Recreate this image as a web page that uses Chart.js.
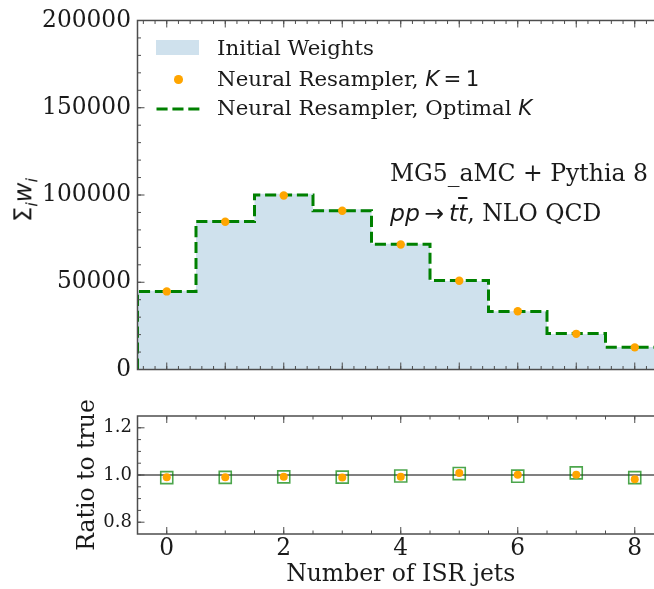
<!DOCTYPE html>
<html lang="en">
<head>
  <meta charset="UTF-8">
  <title>ISR jet multiplicity</title>
  <script src="https://cdn.jsdelivr.net/npm/chart.js"></script>
  <style>
    html, body {
      margin: 0;
      padding: 0;
      width: 654px;
      height: 589px;
      overflow: hidden;
      background: #ffffff;
    }
    canvas {
      position: absolute;
      left: 0;
    }
    #main-canvas { top: 0; }
    #ratio-canvas { top: 395px; }
    .txt {
      position: absolute;
      white-space: nowrap;
      line-height: 1;
      color: #1a1a1a;
      font-family: 'DejaVu Serif', serif;
    }
    .math { font-family: 'DejaVu Sans', sans-serif; }
    .math i { font-style: oblique; }
    .legend-text { font-size: 21.3px; left: 217px; }
    .note { font-size: 23.5px; left: 390px; }
    .bar { text-decoration: overline; }
  </style>
</head>
<body>
  <canvas id="main-canvas" width="690" height="390"></canvas>
  <canvas id="ratio-canvas" width="690" height="194"></canvas>

  <!-- legend -->
  <div style="position:absolute;left:156px;top:40px;width:43px;height:15px;background:rgb(207,225,237);"></div>
  <div style="position:absolute;left:174px;top:75px;width:8.5px;height:8.5px;border-radius:50%;background:#ffa500;"></div>
  <svg style="position:absolute;left:156px;top:104px;" width="44" height="10">
    <line x1="0.5" y1="5" x2="43.5" y2="5" stroke="#008000" stroke-width="3" stroke-dasharray="11.1 4.8"/>
  </svg>
  <div class="txt legend-text" style="top:37px;">Initial Weights</div>
  <div class="txt legend-text" style="top:68px;">Neural Resampler, <span class="math"><i>K</i>&#8201;=&#8201;1</span></div>
  <div class="txt legend-text" style="top:97px;">Neural Resampler, Optimal <span class="math"><i>K</i></span></div>

  <!-- process labels -->
  <div class="txt note" style="top:162px;">MG5_aMC + Pythia 8</div>
  <div class="txt note" style="top:202px;"><span class="math"><i>pp</i>&#8201;&#8594;&#8201;<i>t</i><i class="bar">t</i></span>, NLO QCD</div>

  <!-- y title of the upper panel -->
  <div class="txt math" style="left:26px;top:200px;font-size:24px;transform:translate(-50%,-50%) rotate(-90deg);">&#931;<sub style="font-size:16.5px;"><i>i</i></sub><i>w</i><sub style="font-size:16.5px;"><i>i</i></sub></div>

  <script>
    // per-bin sums of weights, bins 0..8 ISR jets
    const jetBins = [0, 1, 2, 3, 4, 5, 6, 7, 8];
    const initialWeights = [45200, 85600, 100700, 91800, 72100, 50700, 33400, 20400, 12900];
    const resamplerK1 = [44750, 84700, 99700, 91000, 71600, 50900, 33400, 20450, 12700];
    const resamplerOptimalK = [44700, 84750, 100000, 91000, 71800, 51000, 33300, 20580, 12750];

    // ratios to truth
    const ratioK1 = [0.990, 0.990, 0.993, 0.989, 0.993, 1.009, 1.001, 1.001, 0.982];
    const ratioOptimalK = [0.989, 0.990, 0.992, 0.991, 0.996, 1.006, 0.995, 1.009, 0.989];
    const unityLineX = [-0.5, 8.5];
    const unityLineY = [1, 1];

    // axis ranges and tick labels
    const xRange = [-0.5, 8.5];
    const xTickLabels = [0, 2, 4, 6, 8];
    const mainYRange = [0, 200000];
    const mainYTicks = [0, 50000, 100000, 150000, 200000];
    const ratioYRange = [0.75, 1.25];
    const ratioYTicks = [0.8, 1.0, 1.2];

    const ORANGE = '#ffa500';
    const GREEN = '#008000';
    const FILL = 'rgb(207,225,237)';
    const SPINE = '#4d4d4d';
    const TEXT = '#1a1a1a';

    Chart.defaults.font.family = "'DejaVu Serif', serif";
    Chart.defaults.color = TEXT;

    // step outline: point at each left bin edge, closed at the right edge
    function stepPoints(values, fromZero) {
      const pts = [];
      if (fromZero) pts.push({ x: jetBins[0] - 0.5, y: 0 });
      values.forEach((v, i) => pts.push({ x: jetBins[i] - 0.5, y: v }));
      pts.push({ x: jetBins[jetBins.length - 1] + 0.5, y: values[values.length - 1] });
      return pts;
    }

    function range(from, to, step) {
      const out = [];
      for (let v = from; v <= to + step * 1e-6; v += step) out.push(+v.toFixed(6));
      return out;
    }

    // box around the plot area with inward major/minor ticks on every side
    const framePlugin = {
      id: 'frame',
      afterDatasetsDraw(chart, args, opts) {
        const { ctx, chartArea: a, scales } = chart;
        const x = scales.x, y = scales.y;
        ctx.save();
        ctx.strokeStyle = SPINE;
        ctx.lineWidth = 1;
        const tick = (vals, len, horiz) => {
          vals.forEach(v => {
            ctx.beginPath();
            if (horiz) {
              const px = x.getPixelForValue(v);
              if (px <= a.left + 0.5 || px >= a.right - 0.5) return;
              ctx.moveTo(px, a.bottom); ctx.lineTo(px, a.bottom - len);
              ctx.moveTo(px, a.top); ctx.lineTo(px, a.top + len);
            } else {
              const py = y.getPixelForValue(v);
              if (py <= a.top + 0.5 || py >= a.bottom - 0.5) return;
              ctx.moveTo(a.left, py); ctx.lineTo(a.left + len, py);
              ctx.moveTo(a.right, py); ctx.lineTo(a.right - len, py);
            }
            ctx.stroke();
          });
        };
        tick(opts.xMinor, 3.5, true);
        tick(opts.xMajor, 7, true);
        tick(opts.yMinor, 3.5, false);
        tick(opts.yMajor, 7, false);
        ctx.lineWidth = 1.5;
        ctx.strokeRect(a.left, a.top, a.right - a.left, a.bottom - a.top);
        ctx.restore();
      }
    };

    const PLOT_LEFT = 137.5;
    const PLOT_RIGHT = 664;

    // upper panel: weighted histograms
    new Chart(document.getElementById('main-canvas'), {
      type: 'line',
      data: {
        datasets: [
          {
            label: 'Neural Resampler, K = 1',
            type: 'scatter',
            data: jetBins.map((b, i) => ({ x: b, y: resamplerK1[i] })),
            pointRadius: 4.2,
            pointBackgroundColor: ORANGE,
            pointBorderWidth: 0,
            order: 1
          },
          {
            label: 'Neural Resampler, Optimal K',
            data: stepPoints(resamplerOptimalK, true),
            stepped: true,
            borderColor: GREEN,
            borderWidth: 3,
            borderDash: [11.1, 4.8],
            borderCapStyle: 'butt',
            pointRadius: 0,
            fill: false,
            order: 2
          },
          {
            label: 'Initial Weights',
            data: stepPoints(initialWeights, false),
            stepped: true,
            borderWidth: 0,
            borderColor: FILL,
            backgroundColor: FILL,
            pointRadius: 0,
            fill: 'origin',
            order: 3
          }
        ]
      },
      options: {
        responsive: false,
        animation: false,
        events: [],
        layout: { autoPadding: false, padding: { top: 20, bottom: 20, left: 0, right: 690 - PLOT_RIGHT } },
        plugins: {
          legend: { display: false },
          tooltip: { enabled: false },
          frame: {
            xMajor: range(0, 8, 1),
            xMinor: range(-0.4, 8.4, 0.2),
            yMajor: mainYTicks,
            yMinor: range(0, 200000, 10000)
          }
        },
        scales: {
          x: {
            type: 'linear',
            min: xRange[0],
            max: xRange[1],
            ticks: { display: false },
            grid: { display: false, drawTicks: false },
            border: { display: false },
            afterFit(s) { s.height = 0; }
          },
          y: {
            min: mainYRange[0],
            max: mainYRange[1],
            afterBuildTicks(s) { s.ticks = mainYTicks.map(v => ({ value: v })); },
            ticks: {
              padding: 6.5,
              font: { size: 23.3 },
              color: TEXT,
              callback: v => String(v)
            },
            grid: { display: false, drawTicks: false },
            border: { display: false },
            afterFit(s) { s.width = PLOT_LEFT; }
          }
        }
      },
      plugins: [framePlugin]
    });

    // lower panel: ratio to truth
    new Chart(document.getElementById('ratio-canvas'), {
      type: 'line',
      data: {
        datasets: [
          {
            label: 'Neural Resampler, K = 1',
            type: 'scatter',
            data: jetBins.map((b, i) => ({ x: b, y: ratioK1[i] })),
            pointRadius: 4,
            pointBackgroundColor: ORANGE,
            pointBorderWidth: 0,
            order: 1
          },
          {
            label: 'Neural Resampler, Optimal K',
            type: 'scatter',
            data: jetBins.map((b, i) => ({ x: b, y: ratioOptimalK[i] })),
            pointStyle: 'rect',
            pointRadius: 8.5,
            pointBackgroundColor: 'rgba(255,255,255,0)',
            pointBorderColor: 'rgba(0,128,0,0.7)',
            pointBorderWidth: 1.6,
            order: 2
          },
          {
            label: 'unity',
            data: unityLineX.map((x, i) => ({ x: x, y: unityLineY[i] })),
            borderColor: '#808080',
            borderWidth: 2,
            pointRadius: 0,
            fill: false,
            order: 3
          }
        ]
      },
      options: {
        responsive: false,
        animation: false,
        events: [],
        layout: { autoPadding: false, padding: { top: 21, bottom: 0, left: 0, right: 690 - PLOT_RIGHT } },
        plugins: {
          legend: { display: false },
          tooltip: { enabled: false },
          frame: {
            xMajor: xTickLabels,
            xMinor: range(-0.5, 8.5, 0.5),
            yMajor: ratioYTicks,
            yMinor: range(0.75, 1.25, 0.05)
          }
        },
        scales: {
          x: {
            type: 'linear',
            min: xRange[0],
            max: xRange[1],
            afterBuildTicks(s) { s.ticks = xTickLabels.map(v => ({ value: v })); },
            ticks: { padding: 1, font: { size: 23.3 }, color: TEXT, callback: v => String(v) },
            grid: { display: false, drawTicks: false },
            border: { display: false },
            title: {
              display: true,
              text: 'Number of ISR jets',
              font: { size: 23.5 },
              color: TEXT,
              padding: { top: 0, bottom: 0 }
            },
            afterFit(s) { s.height = 55; }
          },
          y: {
            min: ratioYRange[0],
            max: ratioYRange[1],
            afterBuildTicks(s) { s.ticks = ratioYTicks.map(v => ({ value: v })); },
            ticks: { padding: 5.5, font: { size: 18 }, color: TEXT, callback: v => v.toFixed(1) },
            grid: { display: false, drawTicks: false },
            border: { display: false },
            title: {
              display: true,
              text: 'Ratio to true',
              font: { size: 23.5 },
              color: TEXT,
              padding: { top: 74, bottom: 0 }
            },
            afterFit(s) { s.width = PLOT_LEFT; }
          }
        }
      },
      plugins: [framePlugin]
    });
  </script>
</body>
</html>
